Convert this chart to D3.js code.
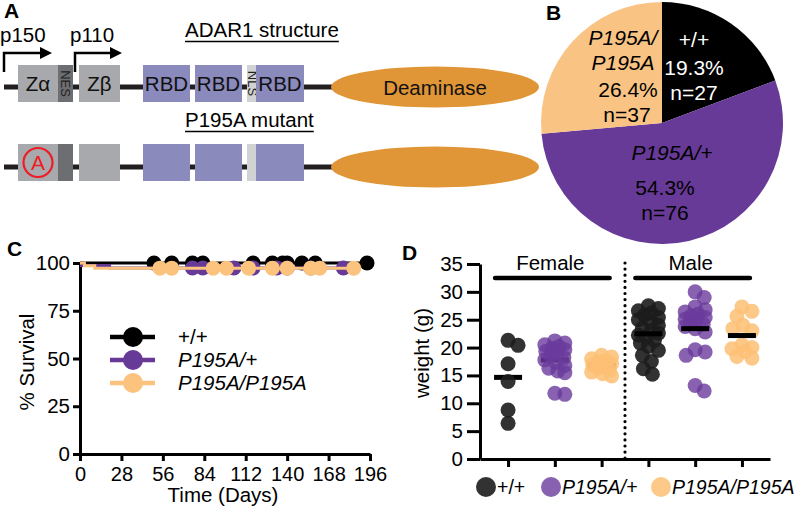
<!DOCTYPE html>
<html><head><meta charset="utf-8">
<script src="https://cdn.jsdelivr.net/npm/d3@7"></script>
<style>
body{margin:0;background:#fff}
svg{display:block;font-family:"Liberation Sans",Arial,Helvetica,sans-serif}
</style></head><body>
<svg id="chart" width="800" height="508"></svg>
<script>
// ================= DATA =================
const genotypes = ["+/+", "P195A/+", "P195A/P195A"];
const genotypeColors = ["#000000", "#683a98", "#fbc37e"];

// Panel A: domain labels
const domainLabels = ["Zα", "NES", "Zβ", "RBD", "RBD", "NLS", "RBD", "Deaminase"];
const isoformLabels = ["p150", "p110"];

// Panel B: pie (counts per genotype)
const pieCounts = [27, 76, 37];

// Panel C: survival (Kaplan-Meier steps: [day, % survival])
const survTicksX = [0, 28, 56, 84, 112, 140, 168, 196];
const survTicksY = [0, 25, 50, 75, 100];
const survWT  = [[0, 100], [194, 100]];
const survHet = [[0, 100], [1, 98.7], [20, 97.4], [178, 97.4]];
const survHom = [[0, 100], [3, 98.6], [10, 97.3], [185, 97.3]];
const censorWT  = [50, 62, 76, 83, 117, 130, 137, 140, 150, 159, 194];
const censorHet = [76, 83, 104, 117, 133, 140, 156, 178];
const censorHom = [54, 62, 90, 99, 114, 130, 140, 156, 162, 185];

// Panel D: weights (g)
const weightTicks = [0, 5, 10, 15, 20, 25, 30, 35];
const sexes = ["Female", "Male"];
const femaleWT  = [20.4, 21.3, 17.1, 13.9, 8.8, 6.4];
const femaleHet = [21.2, 20.8, 20.5, 20.2, 19.9, 19.6, 19.3, 19.0, 18.6, 18.2, 17.8, 17.3, 16.8, 16.3, 15.8, 15.5, 11.8, 11.6];
const femaleHom = [18.6, 18.3, 18.0, 17.7, 17.4, 17.1, 16.9, 16.6, 16.3, 16.0, 15.6, 15.3, 14.9];
const maleWT    = [27.5, 27.0, 26.6, 26.2, 25.8, 25.4, 25.0, 24.5, 24.0, 23.5, 23.0, 22.6, 22.2, 21.8, 21.3, 20.8, 20.2, 19.5, 18.6, 17.5, 16.2, 15.2];
const maleHet   = [30.0, 29.0, 27.3, 26.8, 26.4, 26.0, 25.7, 25.4, 25.1, 24.8, 24.5, 24.2, 23.8, 23.4, 22.8, 19.6, 19.2, 18.6, 13.2, 12.2];
const maleHom   = [27.3, 26.5, 25.6, 24.0, 23.0, 23.4, 20.0, 20.5, 19.8, 19.3, 18.4, 18.1];

// ================= DRAW =================
const svg = d3.select("#chart");
const FONT = 20.5;
function panelLabel(t, x, y) {
  svg.append("text").attr("x", x).attr("y", y).text(t)
    .attr("font-weight", "bold").attr("font-size", 21).attr("fill", "#000");
}

// ---------- Panel A ----------
panelLabel("A", 4, 18);
const gA = svg.append("g");
const ink = "#231f20";
function arrow(x0, yBottom, yTop, x1) {
  gA.append("path").attr("d", `M${x0},${yBottom}V${yTop}H${x1 - 10}`)
    .attr("fill", "none").attr("stroke", "#000").attr("stroke-width", 2.5);
  gA.append("path").attr("d", `M${x1 - 12},${yTop - 6}L${x1},${yTop}L${x1 - 12},${yTop + 6}Z`).attr("fill", "#000");
}
gA.append("text").attr("x", 0).attr("y", 42).attr("font-size", FONT).text(isoformLabels[0]);
gA.append("text").attr("x", 70).attr("y", 42).attr("font-size", FONT).text(isoformLabels[1]);
arrow(4, 72, 53, 52);
arrow(75, 72, 53, 122);

function title(t, y) {
  const tx = gA.append("text").attr("x", 185).attr("y", y).attr("font-size", FONT).text(t);
  const w = tx.node().getComputedTextLength();
  gA.append("line").attr("x1", 185).attr("x2", 185 + w).attr("y1", y + 4.5).attr("y2", y + 4.5)
    .attr("stroke", "#000").attr("stroke-width", 1.6);
}
title("ADAR1 structure", 37);
title("P195A mutant", 127);

function proteinRow(top, lineY, labelled) {
  const h = 37, mid = top + h / 2;
  gA.append("line").attr("x1", 4).attr("x2", 340).attr("y1", lineY).attr("y2", lineY)
    .attr("stroke", ink).attr("stroke-width", 5);
  const boxes = [
    {x0: 18, x1: 58, fill: "#a7a9ac", i: 0},
    {x0: 58, x1: 73, fill: "#6d6e71", i: 1, rot: true},
    {x0: 79, x1: 120, fill: "#a7a9ac", i: 2},
    {x0: 143, x1: 190, fill: "#8a8abd", i: 3},
    {x0: 195, x1: 242, fill: "#8a8abd", i: 4},
    {x0: 247, x1: 257, fill: "#d1d2d4", i: 5, rot: true},
    {x0: 256, x1: 304, fill: "#8a8abd", i: 6},
  ];
  boxes.forEach(b => {
    gA.append("rect").attr("x", b.x0).attr("y", top).attr("width", b.x1 - b.x0).attr("height", h).attr("fill", b.fill);
    if (!labelled) return;
    const cx = (b.x0 + b.x1) / 2;
    if (b.rot) {
      gA.append("text").attr("transform", `translate(${cx - 4.5},${mid}) rotate(90)`)
        .attr("text-anchor", "middle").attr("font-size", 13).attr("fill", "#222").text(domainLabels[b.i]);
    } else {
      gA.append("text").attr("x", cx).attr("y", mid + 7.5).attr("text-anchor", "middle")
        .attr("font-size", FONT).attr("fill", "#111").text(domainLabels[b.i]);
    }
  });
  gA.append("ellipse").attr("cx", 435).attr("cy", lineY).attr("rx", 104).attr("ry", 20.5).attr("fill", "#e09537");
  if (labelled) {
    gA.append("text").attr("x", 435).attr("y", lineY + 7.5).attr("text-anchor", "middle")
      .attr("font-size", FONT).attr("fill", "#111").text(domainLabels[7]);
  } else {
    gA.append("circle").attr("cx", 38).attr("cy", mid).attr("r", 14.5)
      .attr("fill", "none").attr("stroke", "#ee1c24").attr("stroke-width", 2.2);
    gA.append("text").attr("x", 38).attr("y", mid + 7.5).attr("text-anchor", "middle")
      .attr("font-size", 21).attr("fill", "#ee1c24").text("A");
  }
}
proteinRow(65, 87, true);
proteinRow(144, 167, false);

// ---------- Panel B ----------
panelLabel("B", 546, 20);
const pieC = {x: 662, y: 123};
const pie = d3.pie().sort(null).value(d => d)(pieCounts);
const arc = d3.arc().innerRadius(0).outerRadius(121);
const pieColors = ["#000000", "#683a98", "#f9c384"];
const gB = svg.append("g").attr("transform", `translate(${pieC.x},${pieC.y})`);
gB.selectAll("path").data(pie).join("path").attr("d", arc).attr("fill", (d, i) => pieColors[i]);
const total = d3.sum(pieCounts);
const pct = pieCounts.map(c => (c / total * 100).toFixed(1) + "%");
function pieText(lines, x, ys, fill) {
  lines.forEach((l, k) => {
    svg.append("text").attr("x", x[k]).attr("y", ys[k]).attr("text-anchor", "middle")
      .attr("font-size", 21).attr("fill", fill).attr("font-style", l.it ? "italic" : "normal").text(l.t);
  });
}
pieText([{t: genotypes[0]}, {t: pct[0]}, {t: "n=" + pieCounts[0]}], [694, 694, 694], [47, 75, 100], "#fff");
pieText([{t: "P195A/", it: true}, {t: "P195A", it: true}, {t: pct[2]}, {t: "n=" + pieCounts[2]}],
  [623, 623, 628, 627], [45, 70, 97, 122], "#000");
pieText([{t: genotypes[1], it: true}, {t: pct[1]}, {t: "n=" + pieCounts[1]}], [672, 665, 665], [160, 195, 220], "#000");

// ---------- Panel C ----------
panelLabel("C", 7, 256);
const xC = d3.scaleLinear().domain([0, 196]).range([80, 370]);
const yC = d3.scaleLinear().domain([0, 100]).range([454, 263]);
const gC = svg.append("g");
function styleAxis(g, fs) {
  g.selectAll("path,line").attr("stroke", "#000").attr("stroke-width", 3);
  g.selectAll("text").attr("font-size", fs).attr("fill", "#000").attr("font-family", "Liberation Sans, Arial, sans-serif");
}
gC.append("g").attr("transform", "translate(0,454)")
  .call(d3.axisBottom(xC).tickValues(survTicksX).tickSize(7).tickSizeOuter(0).tickPadding(6))
  .call(styleAxis, 20);
gC.append("g").attr("transform", "translate(80,0)")
  .call(d3.axisLeft(yC).tickValues(survTicksY).tickSize(7).tickSizeOuter(0).tickPadding(3))
  .call(styleAxis, 20.5);
gC.append("text").attr("x", 223).attr("y", 502).attr("text-anchor", "middle").attr("font-size", FONT).text("Time (Days)");
gC.append("text").attr("transform", "translate(34,362) rotate(-90)").attr("text-anchor", "middle")
  .attr("font-size", FONT).text("% Survival");

const stepLine = d3.line().x(d => xC(d[0])).y(d => yC(d[1])).curve(d3.curveStepAfter);
const survSeries = [
  {steps: survWT, cens: censorWT},
  {steps: survHet, cens: censorHet},
  {steps: survHom, cens: censorHom},
];
function survAt(steps, t) { let v = steps[0][1]; steps.forEach(s => { if (s[0] <= t) v = s[1]; }); return v; }
survSeries.forEach((s, i) => {
  gC.append("path").attr("d", stepLine(s.steps)).attr("fill", "none")
    .attr("stroke", genotypeColors[i]).attr("stroke-width", 3);
  gC.selectAll(null).data(s.cens).join("circle")
    .attr("cx", d => xC(d)).attr("cy", d => yC(survAt(s.steps, d))).attr("r", 7.5)
    .attr("fill", genotypeColors[i]);
});
// legend C
genotypes.forEach((g, i) => {
  const y = 337 + i * 23;
  gC.append("line").attr("x1", 110).attr("x2", 155).attr("y1", y).attr("y2", y)
    .attr("stroke", genotypeColors[i]).attr("stroke-width", 4.5);
  gC.append("circle").attr("cx", 133).attr("cy", y).attr("r", 10).attr("fill", genotypeColors[i]);
  gC.append("text").attr("x", 178).attr("y", y + 7).attr("font-size", FONT)
    .attr("font-style", i === 0 ? "normal" : "italic").text(g);
});

// ---------- Panel D ----------
panelLabel("D", 402, 260);
const groups = [
  {sex: 0, gt: 0, vals: femaleWT}, {sex: 0, gt: 1, vals: femaleHet}, {sex: 0, gt: 2, vals: femaleHom},
  {sex: 1, gt: 0, vals: maleWT}, {sex: 1, gt: 1, vals: maleHet}, {sex: 1, gt: 2, vals: maleHom},
];
const xD = d3.scalePoint().domain(d3.range(groups.length)).range([480, 770]).padding(0.6);
const yD = d3.scaleLinear().domain([0, 35]).range([459, 264]);
const gD = svg.append("g");
gD.append("g").attr("transform", "translate(0,459)")
  .call(d3.axisBottom(xD).tickSize(8).tickSizeOuter(0).tickFormat(""))
  .call(styleAxis, 20);
gD.append("g").attr("transform", "translate(480,0)")
  .call(d3.axisLeft(yD).tickValues(weightTicks).tickSize(13).tickSizeOuter(0).tickPadding(4))
  .call(styleAxis, 20.5);
gD.append("text").attr("transform", "translate(429,353) rotate(-90)").attr("text-anchor", "middle")
  .attr("font-size", FONT).text("weight (g)");

// dotted separator
const sepX = (xD(2) + xD(3)) / 2;
gD.append("line").attr("x1", sepX).attr("x2", sepX).attr("y1", 263).attr("y2", 459)
  .attr("stroke", "#000").attr("stroke-width", 3.2).attr("stroke-linecap", "round").attr("stroke-dasharray", "0,6.1");
// sex headers
sexes.forEach((s, k) => {
  const xs = groups.map((g, i) => i).filter(i => groups[i].sex === k).map(i => xD(i));
  const x0 = d3.min(xs) - 13, x1 = d3.max(xs) + 8;
  gD.append("line").attr("x1", x0).attr("x2", x1).attr("y1", 278).attr("y2", 278)
    .attr("stroke", "#000").attr("stroke-width", 4.5).attr("stroke-linecap", "round");
  gD.append("text").attr("x", (x0 + x1) / 2 - 2).attr("y", 270).attr("text-anchor", "middle")
    .attr("font-size", FONT).text(s);
});

// beeswarm placement
function swarm(vals, cx, minD, maxOff) {
  const pts = vals.map(v => ({v, y: yD(v)})).sort((a, b) => a.y - b.y);
  const placed = [];
  pts.forEach(p => {
    let best = 0, bestScore = Infinity;
    for (let k = 0; k <= maxOff * 2; k++) {
      const off = (k % 2 ? 1 : -1) * Math.ceil(k / 2);
      let worst = 0;
      placed.forEach(q => { const d = Math.hypot(q.x - (cx + off), q.y - p.y); if (d < minD) worst = Math.max(worst, minD - d); });
      if (worst === 0) { best = off; bestScore = 0; break; }
      if (worst < bestScore - 0.01) { bestScore = worst; best = off; }
    }
    p.x = cx + best;
    placed.push(p);
  });
  return placed;
}
const dotColors = ["#1c1c1c", "#6a3b9c", "#fdbf74"];
const dotOpacity = [0.9, 0.8, 0.85];
groups.forEach((g, i) => {
  const cx = xD(i);
  const mean = d3.mean(g.vals);
  const bar = () => gD.append("rect").attr("x", cx - 14).attr("y", yD(mean) - 2.5)
    .attr("width", 28).attr("height", 5).attr("fill", "#000");
  if (g.sex === 0) bar();
  gD.selectAll(null).data(swarm(g.vals, cx, 10.5, 10)).join("circle")
    .attr("cx", d => d.x).attr("cy", d => d.y).attr("r", 7.5)
    .attr("fill", dotColors[g.gt]).attr("fill-opacity", dotOpacity[g.gt]);
  if (g.sex === 1) bar();
});
// legend D
const legX = [486, 551, 661];
genotypes.forEach((g, i) => {
  gD.append("circle").attr("cx", legX[i]).attr("cy", 487).attr("r", 10)
    .attr("fill", dotColors[i]).attr("fill-opacity", dotOpacity[i]);
  gD.append("text").attr("x", legX[i] + 11).attr("y", 494).attr("font-size", 19.5)
    .attr("font-style", i === 0 ? "normal" : "italic").text(g);
});
</script>
</body></html>
